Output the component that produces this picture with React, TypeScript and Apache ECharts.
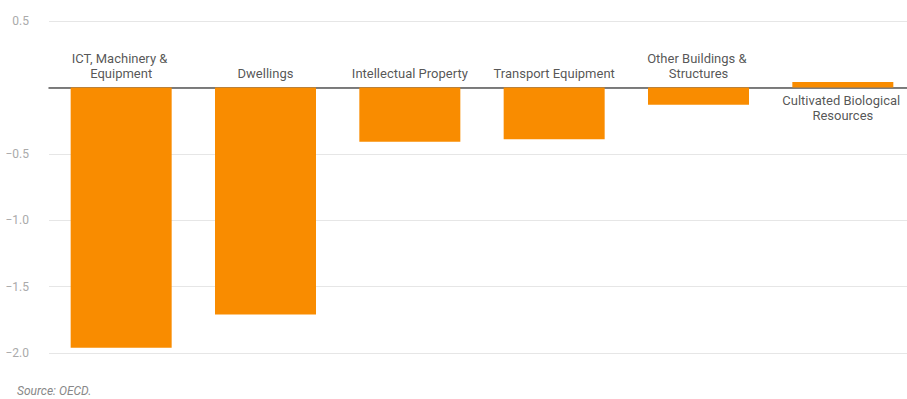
import React, { useEffect, useRef } from "react";
import * as echarts from "echarts";

const categories = [
  "ICT, Machinery & Equipment",
  "Dwellings",
  "Intellectual Property",
  "Transport Equipment",
  "Other Buildings & Structures",
  "Cultivated Biological Resources",
];
const values = [-1.96, -1.71, -0.41, -0.39, -0.13, 0.04];
const sourceText = "Source: OECD.";

export default function App() {
  const ref = useRef<HTMLDivElement>(null);
  useEffect(() => {
    if (!ref.current) return;
    const chart = echarts.init(ref.current, null, { renderer: "svg" });
    const fmt = (v: number) => (v === 0 ? "" : v.toFixed(1).replace("-", "\u2212"));
    chart.setOption({
      animation: false,
      textStyle: { fontFamily: "Roboto" },
      grid: { left: 49, top: 21, width: 866, bottom: 46, outerBoundsMode: "none" },
      xAxis: {
        type: "category",
        data: categories,
        axisLine: { onZero: true, lineStyle: { color: "#555", width: 1.5 } },
        axisTick: { show: false },
        axisLabel: { show: false },
        splitLine: { show: false },
      },
      yAxis: {
        type: "value",
        min: -2,
        max: 0.5,
        interval: 0.5,
        axisLine: { show: false },
        axisTick: { show: false },
        axisLabel: {
          color: "#aaa",
          fontSize: 12,
          margin: 20,
          formatter: fmt,
        },
        splitLine: { lineStyle: { color: "#e6e6e6", width: 1 } },
      },
      series: [
        {
          type: "bar",
          data: values,
          barWidth: 101,
          itemStyle: { color: "#F98C00" },
          z: 2,
        },
        {
          type: "scatter",
          symbolSize: 0,
          z: 5,
          data: values.map((v) => ({
            value: 0,
            label: { position: v < 0 ? "top" : "bottom" },
          })),
          label: {
            show: true,
            distance: 6,
            color: "#2a2a2a",
            fontSize: 13,
            lineHeight: 15,
            width: 136,
            overflow: "break",
            align: "center",
            formatter: (p: any) => p.name,
          },
        },
      ],
      graphic: [
        {
          type: "text",
          left: 17,
          top: 385,
          style: {
            text: sourceText,
            fontStyle: "italic",
            fontSize: 12,
            fill: "#888",
            fontFamily: "Roboto",
          },
        },
      ],
    });
    return () => chart.dispose();
  }, []);
  return (
    <div
      ref={ref}
      style={{ position: "fixed", left: 0, top: 0, width: 907, height: 399, background: "#fff" }}
    />
  );
}
